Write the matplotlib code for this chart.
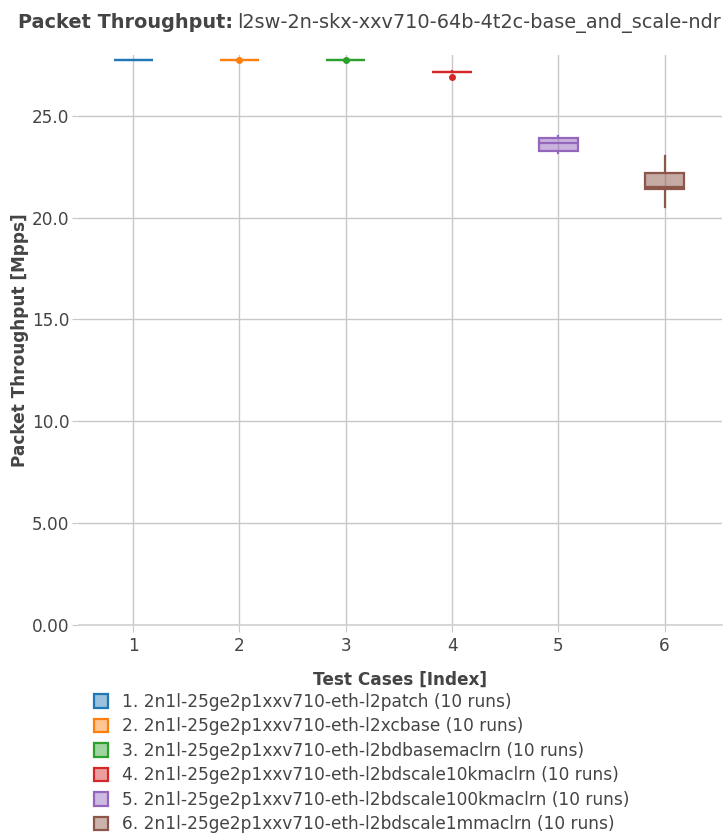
import matplotlib
matplotlib.use("Agg")
import matplotlib.pyplot as plt
from matplotlib.patches import Patch
from matplotlib.colors import to_rgba

# ---------------------------- data ----------------------------
test_idx = [1, 2, 3, 4, 5, 6]
test_names = [
    "2n1l-25ge2p1xxv710-eth-l2patch",
    "2n1l-25ge2p1xxv710-eth-l2xcbase",
    "2n1l-25ge2p1xxv710-eth-l2bdbasemaclrn",
    "2n1l-25ge2p1xxv710-eth-l2bdscale10kmaclrn",
    "2n1l-25ge2p1xxv710-eth-l2bdscale100kmaclrn",
    "2n1l-25ge2p1xxv710-eth-l2bdscale1mmaclrn",
]
runs = [10, 10, 10, 10, 10, 10]
whis_lo = [27.72, 27.73, 27.73, 27.14, 23.17, 20.50]
q1 = [27.73, 27.74, 27.74, 27.15, 23.25, 21.40]
median = [27.73, 27.74, 27.74, 27.16, 23.66, 21.52]
q3 = [27.74, 27.75, 27.75, 27.17, 23.90, 22.18]
whis_hi = [27.75, 27.76, 27.76, 27.18, 24.00, 23.04]
outliers = [[], [27.74], [27.74], [26.88], [], []]

colors = ["#1f77b4", "#ff7f0e", "#2ca02c", "#d62728", "#9467bd", "#8c564b"]
y_ticks = [0, 5, 10, 15, 20, 25]
y_tick_labels = ["0.00", "5.00", "10.0", "15.0", "20.0", "25.0"]

# ---------------------------- plot ----------------------------
txt = "#444444"
fs = 12.2
fig = plt.figure(figsize=(7.26, 8.39), dpi=100)
ax = fig.add_axes([0.1088, 0.2554, 0.8857, 0.679])

for i in range(len(test_idx)):
    c = colors[i]
    s = dict(med=median[i], q1=q1[i], q3=q3[i],
             whislo=whis_lo[i], whishi=whis_hi[i], fliers=outliers[i])
    ax.bxp([s], positions=[test_idx[i]], widths=0.37, patch_artist=True,
           showcaps=False, manage_ticks=False,
           boxprops=dict(facecolor=to_rgba(c, 0.5), edgecolor=c, linewidth=1.6),
           medianprops=dict(color=c, linewidth=1.6),
           whiskerprops=dict(color=c, linewidth=1.6),
           flierprops=dict(marker="o", markerfacecolor=c, markeredgecolor=c,
                           markersize=4),
           zorder=3)

ax.set_xlim(0.49, 6.54)
ax.set_ylim(0, 27.98)
ax.set_xticks(test_idx)
ax.set_xticklabels([str(t) for t in test_idx])
ax.set_yticks(y_ticks)
ax.set_yticklabels(y_tick_labels)

ax.grid(True, color="#c8c8c8", linewidth=1)
ax.set_axisbelow(True)
for sp in ax.spines.values():
    sp.set_visible(False)
ax.axhline(0, color="#d0d0d0", linewidth=1.2, zorder=2, clip_on=False)

ax.tick_params(axis="x", length=5, color="#c8c8c8", labelcolor=txt,
               labelsize=fs, pad=4)
ax.tick_params(axis="y", length=5, color="#c8c8c8", labelcolor=txt,
               labelsize=fs, pad=2)

ax.set_xlabel("Test Cases [Index]", fontsize=fs, fontweight="bold",
              color=txt, labelpad=11)
ax.set_ylabel("Packet Throughput [Mpps]", fontsize=fs, fontweight="bold",
              color=txt, labelpad=2)

t1 = fig.text(0.0252, 0.973, "Packet Throughput:", fontsize=13.9,
              fontweight="bold", color=txt, va="center")
ax.annotate("l2sw-2n-skx-xxv710-64b-4t2c-base_and_scale-ndr",
            xy=(1, 0.5), xycoords=t1, xytext=(3, 0), textcoords="offset points",
            fontsize=13.9, color=txt, va="center", annotation_clip=False)

handles = [Patch(facecolor=to_rgba(c, 0.45), edgecolor=c, linewidth=1.6)
           for c in colors]
labels = [f"{i}. {n} ({r} runs)" for i, n, r in zip(test_idx, test_names, runs)]
fig.legend(handles, labels, loc="upper left", bbox_to_anchor=(0.1295, 0.1740),
           bbox_transform=fig.transFigure, frameon=False, fontsize=12.25,
           labelcolor=txt, handlelength=0.82, handleheight=0.82,
           handletextpad=0.85, labelspacing=0.38, borderaxespad=0,
           borderpad=0)

fig.savefig("out.png", dpi=100)
